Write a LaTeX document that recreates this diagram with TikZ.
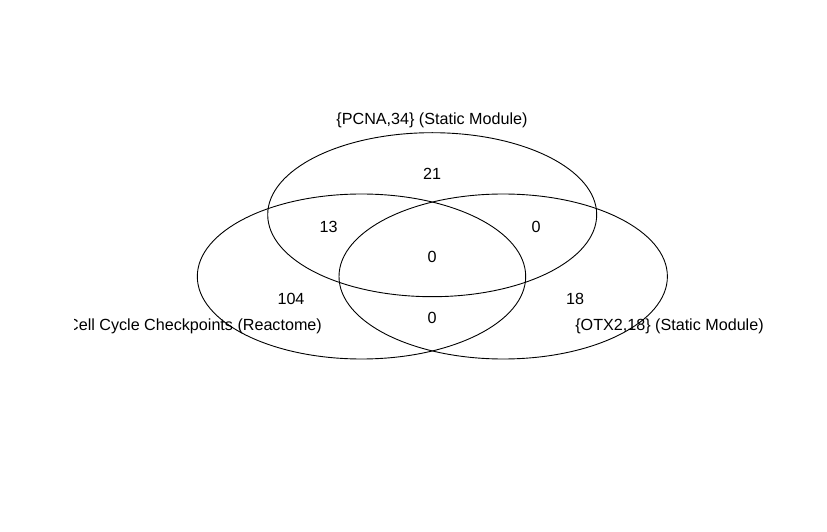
\documentclass[tikz,border=0pt]{standalone}
\usepackage{fontspec}
\setmainfont{Liberation Sans}
\begin{document}
\begin{tikzpicture}[x=1bp,y=-1bp,
  setline/.style={draw=black,line width=0.9bp},
  lbl/.style={anchor=base,inner sep=0pt,font=\fontsize{16.2}{19}\selectfont},
  num/.style={anchor=base,inner sep=0pt,font=\fontsize{16.2}{19}\selectfont}]
\useasboundingbox[fill=white] (0,0) rectangle (827,532);
% sets
\draw[setline] (432.2,214.7) ellipse [x radius=164.5, y radius=82];
\draw[setline] (361.5,276.5) ellipse [x radius=164.2, y radius=82.5];
\draw[setline] (503.2,276.5) ellipse [x radius=164.2, y radius=82.5];
% counts
\node[num] (n21) at (432,179.6) {21};
\node[num] (n13) at (328.7,232.5) {13};
\node[num] (n0a) at (536,232.5) {0};
\node[num] (n0c) at (432,262.8) {0};
\node[num] (n104) at (291,304.6) {104};
\node[num] (n18) at (575,304.6) {18};
\node[num] (n0b) at (432,323.5) {0};
% labels
\node[lbl] (lA) at (432,124.5) {\{PCNA,34\} (Static Module)};
\begin{scope}
\clip (74.5,0) rectangle (827,532);
\node[lbl] (lB) at (194.5,330.8) {Cell Cycle Checkpoints (Reactome)};
\end{scope}
\node[lbl] (lC) at (669.5,330.8) {\{OTX2,18\} (Static Module)};
\end{tikzpicture}
\end{document}
